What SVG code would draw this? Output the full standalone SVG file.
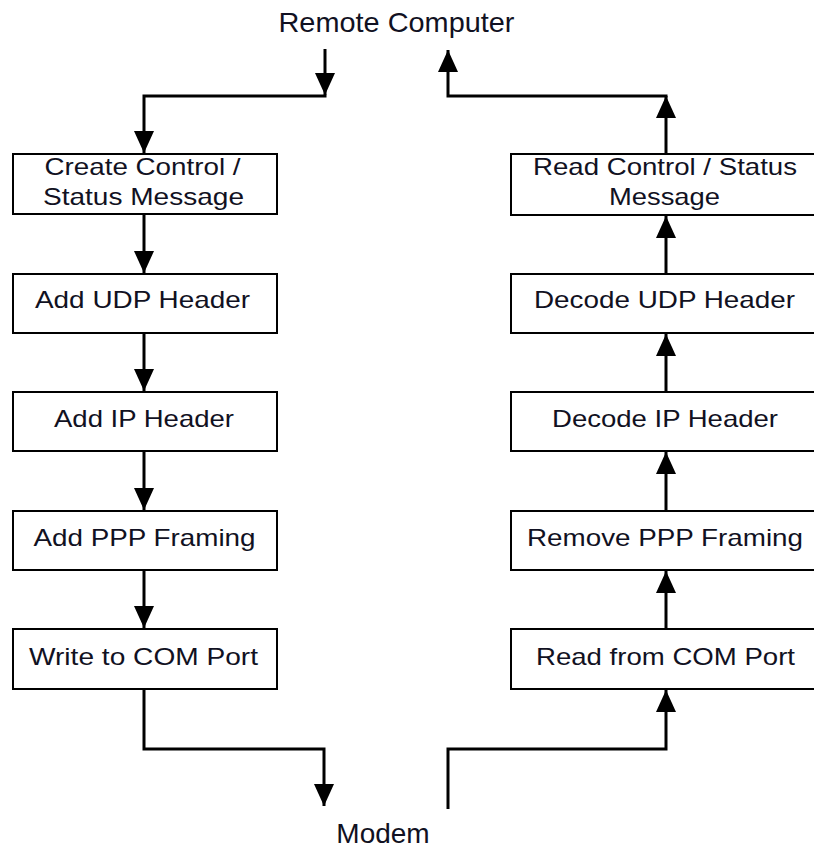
<svg xmlns="http://www.w3.org/2000/svg" width="814" height="848" viewBox="0 0 814 848">
  <style>
    .box { fill: #ffffff; stroke: #000000; stroke-width: 2; }
    .lbl { font-family: "Liberation Sans", Arial, sans-serif; font-size: 24px; fill: #111122; text-anchor: middle; }
    .big { font-family: "Liberation Sans", Arial, sans-serif; font-size: 28px; fill: #111122; text-anchor: middle; }
    .con { fill: none; stroke: #000000; stroke-width: 3; stroke-linejoin: miter; }
  </style>
  <defs>
    <marker id="arr" viewBox="0 0 22 20" refX="22" refY="10" markerWidth="22" markerHeight="20" markerUnits="userSpaceOnUse" orient="auto">
      <path d="M0,0 L22,10 L0,20 Z" fill="#000000"/>
    </marker>
  </defs>

  <g id="remote-computer">
    <text class="big" x="396.5" y="32" textLength="236" lengthAdjust="spacingAndGlyphs">Remote Computer</text>
  </g>
  <g id="modem">
    <text class="big" x="383" y="843">Modem</text>
  </g>

  <g id="create-control">
    <rect class="box" x="13" y="154" width="264" height="60"/>
    <text class="lbl" x="142.5" y="175" textLength="196" lengthAdjust="spacingAndGlyphs">Create Control /</text>
    <text class="lbl" x="143.5" y="205" textLength="201" lengthAdjust="spacingAndGlyphs">Status Message</text>
  </g>
  <g id="add-udp">
    <rect class="box" x="13" y="274" width="264" height="59"/>
    <text class="lbl" x="142.5" y="308" textLength="215" lengthAdjust="spacingAndGlyphs">Add UDP Header</text>
  </g>
  <g id="add-ip">
    <rect class="box" x="13" y="392" width="264" height="59"/>
    <text class="lbl" x="144" y="427" textLength="180" lengthAdjust="spacingAndGlyphs">Add IP Header</text>
  </g>
  <g id="add-ppp">
    <rect class="box" x="13" y="511" width="264" height="59"/>
    <text class="lbl" x="144.5" y="546" textLength="222" lengthAdjust="spacingAndGlyphs">Add PPP Framing</text>
  </g>
  <g id="write-com">
    <rect class="box" x="13" y="629" width="264" height="60"/>
    <text class="lbl" x="143.5" y="665" textLength="229" lengthAdjust="spacingAndGlyphs">Write to COM Port</text>
  </g>

  <g id="read-control">
    <rect class="box" x="511" y="154" width="320" height="61"/>
    <text class="lbl" x="665" y="175" textLength="264" lengthAdjust="spacingAndGlyphs">Read Control / Status</text>
    <text class="lbl" x="664.5" y="205" textLength="111" lengthAdjust="spacingAndGlyphs">Message</text>
  </g>
  <g id="decode-udp">
    <rect class="box" x="511" y="274" width="320" height="59"/>
    <text class="lbl" x="664.5" y="308" textLength="261" lengthAdjust="spacingAndGlyphs">Decode UDP Header</text>
  </g>
  <g id="decode-ip">
    <rect class="box" x="511" y="392" width="320" height="59"/>
    <text class="lbl" x="665" y="427" textLength="226" lengthAdjust="spacingAndGlyphs">Decode IP Header</text>
  </g>
  <g id="remove-ppp">
    <rect class="box" x="511" y="511" width="320" height="59"/>
    <text class="lbl" x="665" y="546" textLength="276" lengthAdjust="spacingAndGlyphs">Remove PPP Framing</text>
  </g>
  <g id="read-com">
    <rect class="box" x="511" y="629" width="320" height="60"/>
    <text class="lbl" x="665.5" y="665" textLength="259" lengthAdjust="spacingAndGlyphs">Read from COM Port</text>
  </g>

  <g id="connectors">
    <path class="con" d="M325,49 V95" marker-end="url(#arr)"/>
    <path class="con" d="M326.5,96 H144 V153" marker-end="url(#arr)"/>
    <path class="con" d="M144,214 V273" marker-end="url(#arr)"/>
    <path class="con" d="M144,333 V391" marker-end="url(#arr)"/>
    <path class="con" d="M144,451 V510" marker-end="url(#arr)"/>
    <path class="con" d="M144,570 V628" marker-end="url(#arr)"/>
    <path class="con" d="M144,689 V749 H324 V806" marker-end="url(#arr)"/>

    <path class="con" d="M448,809 V749 H666 V690" marker-end="url(#arr)"/>
    <path class="con" d="M666,629 V571" marker-end="url(#arr)"/>
    <path class="con" d="M666,511 V452" marker-end="url(#arr)"/>
    <path class="con" d="M666,392 V334" marker-end="url(#arr)"/>
    <path class="con" d="M666,274 V216" marker-end="url(#arr)"/>
    <path class="con" d="M666,154 V96" marker-end="url(#arr)"/>
    <path class="con" d="M667.5,96 H448 V50" marker-end="url(#arr)"/>
  </g>
</svg>
